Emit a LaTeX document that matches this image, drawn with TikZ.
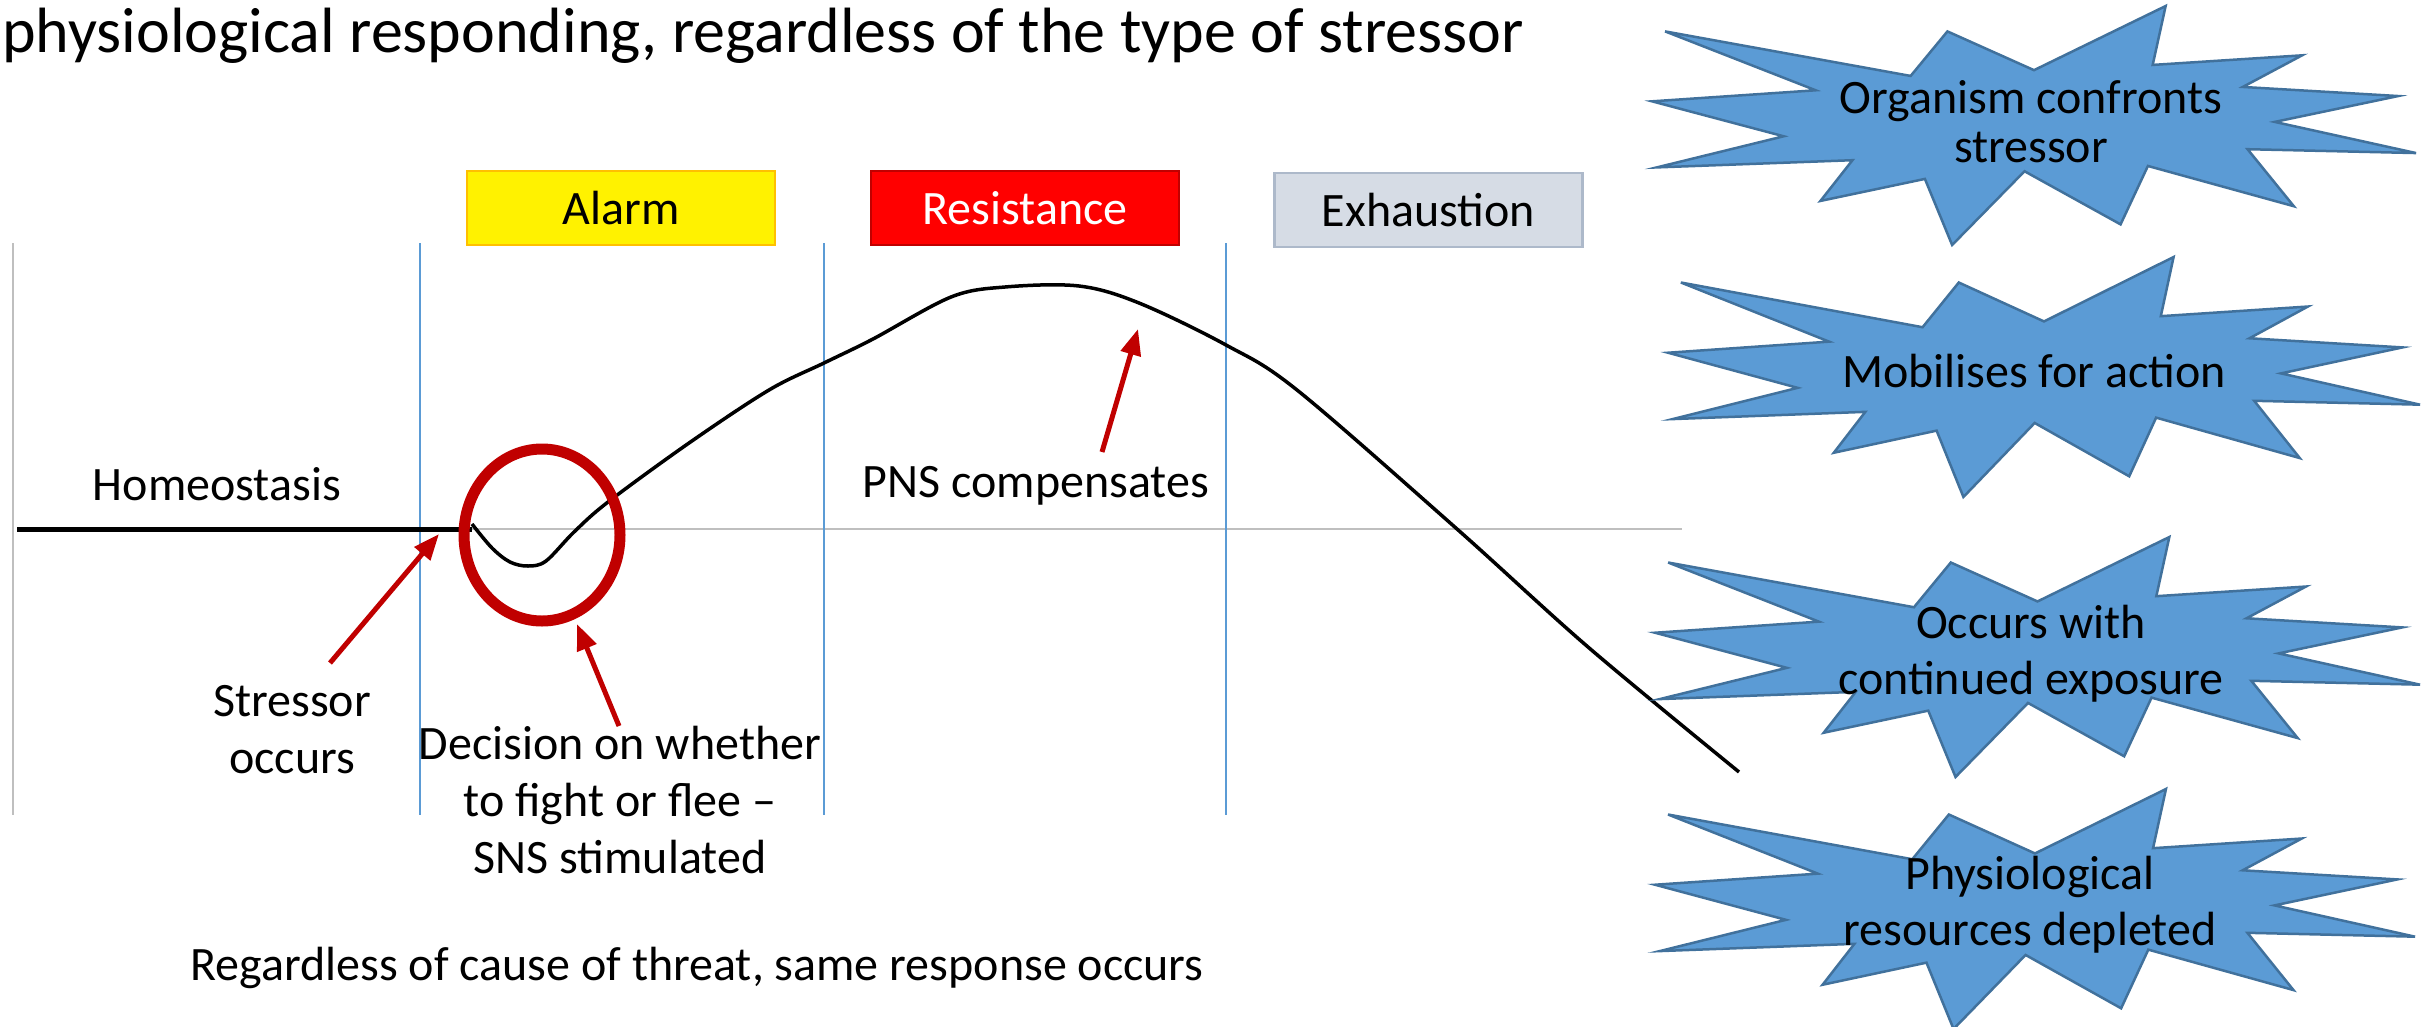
\documentclass[tikz,border=0pt]{standalone}
\usepackage{fontspec}
\setmainfont{Carlito}
\usetikzlibrary{arrows.meta,shapes.geometric}
\definecolor{starfill}{HTML}{5B9BD5}
\definecolor{stardraw}{HTML}{41719C}
\definecolor{darkred}{HTML}{C00000}
\definecolor{phaseblue}{HTML}{5B9BD5}
\definecolor{axisgray}{HTML}{BFBFBF}
\definecolor{alarmline}{HTML}{FFC000}
\definecolor{exhfill}{HTML}{D6DCE5}
\definecolor{exhline}{HTML}{ADB9CA}
\newcommand\burstshape[4]{%
  \begin{scope}[shift={(#1,#2)},xscale=#3/216,yscale=#4/216]
    \draw[burst] (108,58) -- (145.22,0) -- (141.55,53.25) -- (183.80,44.57) -- (167.02,73.15)
      -- (210.97,81.37) -- (176.07,104.75) -- (216,132.90) -- (168.37,129.42) -- (181.45,180.95)
      -- (140.20,144.57) -- (132.47,197.37) -- (105.32,149.35) -- (84.85,216) -- (77.15,156.27)
      -- (47.62,176.17) -- (56.67,139.37) -- (1.35,145.87) -- (37.22,117.75) -- (0,86.15)
      -- (46.27,76.17) -- (3.70,22.95) -- (73.12,63.20) -- (83.52,22.95) -- cycle;
  \end{scope}}
\tikzset{
  burst/.style={fill=starfill,draw=stardraw,line width=2.5pt,line join=miter},
  bursttext/.style={font=\fontsize{48}{56}\selectfont,align=center,inner sep=0pt},
  lbl/.style={font=\fontsize{48}{57}\selectfont,align=center,inner sep=0pt},
  phase/.style={minimum width=308pt,minimum height=74pt,inner sep=0pt,line width=2.5pt,font=\fontsize{48}{57}\selectfont},
  redarrow/.style={draw=darkred,line width=5pt,-{Triangle[length=26pt,width=20pt]}},
  vline/.style={draw=phaseblue,line width=1.5pt},
}
\begin{document}
\begin{tikzpicture}[x=1pt,y=-1pt]
\useasboundingbox (0,0) rectangle (2422,1026);
% title
\node[anchor=base west,inner sep=0pt,font=\fontsize{64}{76}\selectfont] (title) at (2,52) {physiological responding, regardless of the type of stressor};
% axes
\draw[axisgray,line width=2pt] (13,243) -- (13,815);
\draw[axisgray,line width=2pt] (17,529) -- (1682,529);
\draw[vline] (420,243) -- (420,815);
\draw[vline] (824,243) -- (824,815);
\draw[vline] (1226,243) -- (1226,815);
% phase boxes
\node[phase,fill=yellow,draw=alarmline] (alarm) at (621,208) {Alarm};
\node[phase,fill=red,draw=darkred,text=white] (resist) at (1025,208) {Resistance};
\node[phase,fill=exhfill,draw=exhline] (exh) at (1428.5,210) {Exhaustion};
% response curve
\draw[line width=5pt] (17,529) -- (472,529);
\draw[line width=3.5pt,line join=round] plot[smooth,tension=0.55] coordinates {
  (472,524) (492,548) (510,562) (528,566) (546,561) (574,532) (608,502)
  (689,443) (769,390) (824,363) (873,339) (951,297) (1005,287)
  (1079,286) (1139,303) (1226,345) (1297,390) (1457,529) (1588,647) (1739,772)};
% circle
\node[ellipse,draw=darkred,line width=11pt,minimum width=156pt,minimum height=172pt,inner sep=0pt] (circ) at (542,535) {};
% labels
\node[lbl,anchor=base] (homeo) at (217,500) {Homeostasis};
\node[lbl,anchor=base] (pns) at (1036,497) {PNS compensates};
\node[lbl] (stressor) at (292,730) {Stressor\\occurs};
\node[lbl] (decision) at (620,800) {Decision on whether\\to fight or flee –\\SNS stimulated};
\node[lbl,anchor=base] (regard) at (697,980) {Regardless of cause of threat, same response occurs};
% arrows
\coordinate (stressTail) at (330,663);
\coordinate (stressHead) at (439,534);
\coordinate (decTail) at (619,726);
\coordinate (decHead) at (577,624);
\coordinate (pnsTail) at (1102,452);
\coordinate (pnsHead) at (1138,329);
\draw[redarrow] (stressTail) -- (stressHead);
\draw[redarrow] (decTail) -- (decHead);
\draw[redarrow] (pnsTail) -- (pnsHead);
% bursts
\burstshape{1652}{6}{764}{239}
\node[bursttext,font=\fontsize{48}{49}\selectfont] (b1) at (2031,122) {Organism confronts\\stressor};
\burstshape{1668}{257}{752}{240}
\node[bursttext] (b2) at (2034,371) {Mobilises for action};
\burstshape{1655}{537}{765}{240}
\node[bursttext] (b3) at (2031,654) {Occurs with\\continued exposure};
\burstshape{1655}{789}{760}{240}
\node[bursttext] (b4) at (2030,905) {Physiological\\resources depleted};
\end{tikzpicture}
\end{document}
